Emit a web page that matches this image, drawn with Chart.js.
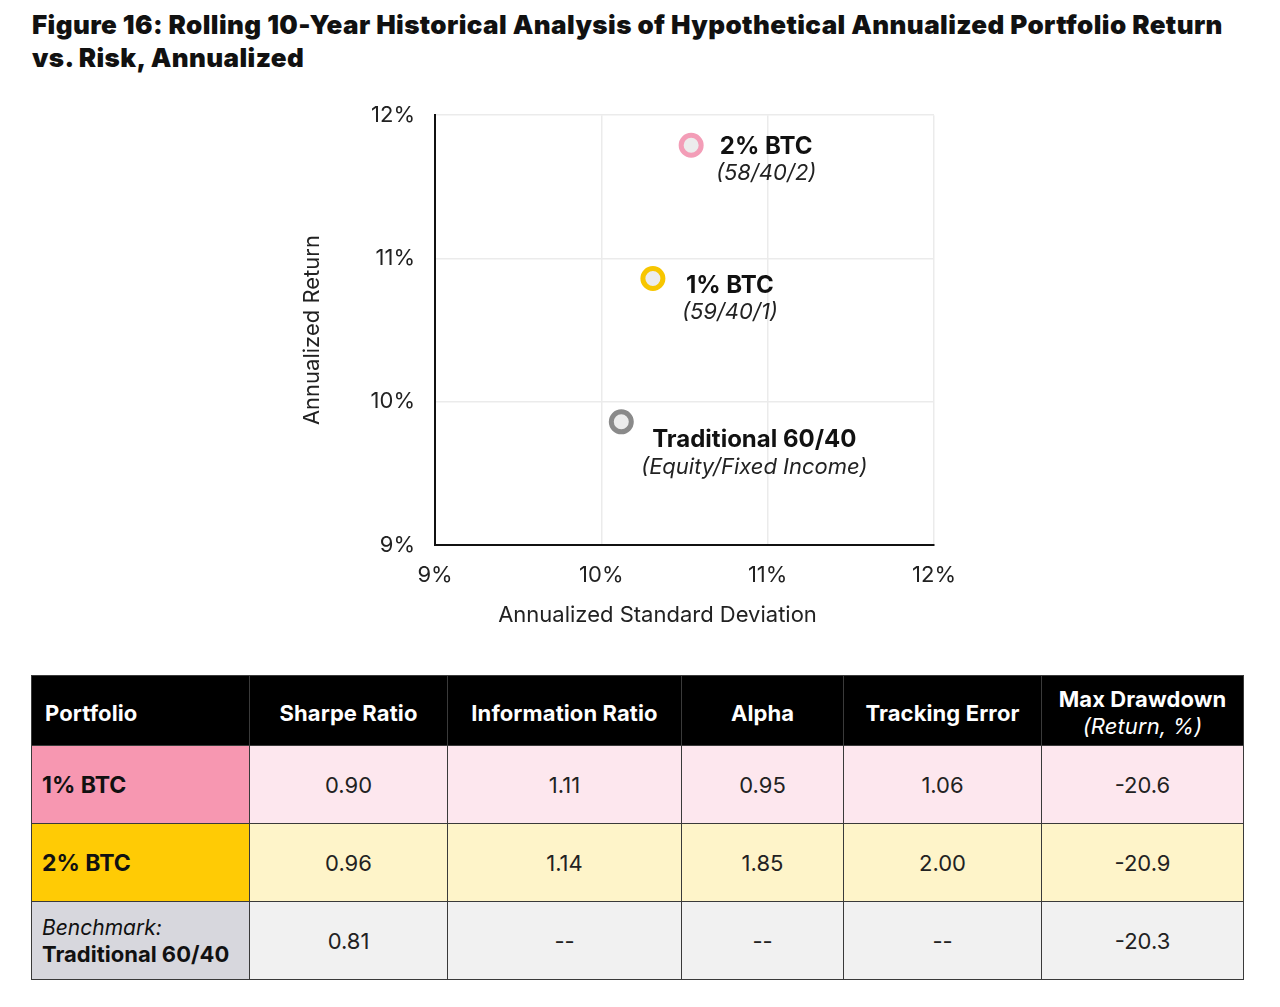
<!DOCTYPE html>
<html>
<head>
<meta charset="utf-8">
<script src="https://cdn.jsdelivr.net/npm/chart.js@4"></script>
<style>
  body { margin: 0; background: #fff; font-family: Inter, "Noto Sans", sans-serif; color: #111; }
  #page { position: relative; width: 1280px; height: 1007px; overflow: hidden; }
  h1 { position: absolute; left: 32px; top: 8px; margin: 0; font-size: 26px; font-weight: 900; line-height: 33px; letter-spacing: 0.4px; color: #111; white-space: nowrap; }
  #chart-box { position: absolute; left: 0; top: 82px; width: 1280px; height: 568px; }
  table { position: absolute; left: 31px; top: 675px; width: 1212px; table-layout: fixed; border-collapse: collapse; font-size: 22px; }
  th, td { border: 1.5px solid #3a3a3a; text-align: center; padding: 0; box-sizing: border-box; }
  th { background: #000; color: #fff; font-weight: 700; height: 70px; padding-top: 5px; border-left-color: #aaa; line-height: 27px; letter-spacing: 0.1px; }
  th:first-child { text-align: left; padding-left: 13px; border-left-color: #3a3a3a; }
  th i { font-weight: 400; }
  td { height: 78px; color: #222; }
  td:first-child { text-align: left; padding-left: 10px; font-weight: 700; color: #111; font-size: 23px; }
  td.bench { font-size: 22px; line-height: 27px; }
  td i { font-weight: 400; font-size: 21px; }
</style>
</head>
<body>
<div id="page">
  <h1>Figure 16: Rolling 10-Year Historical Analysis of Hypothetical Annualized Portfolio Return<br>vs. Risk, Annualized</h1>
  <div id="chart-box"><canvas id="chart"></canvas></div>
  <table id="stats"></table>
</div>
<script>
// scatter data
const portfolios = ['2% BTC', '1% BTC', 'Traditional 60/40'];
const mixLabels = ['(58/40/2)', '(59/40/1)', '(Equity/Fixed Income)'];
const stdDev = [10.54, 10.31, 10.12];
const annReturn = [11.79, 10.86, 9.86];
const axisTicks = [9, 10, 11, 12];
const xTitle = 'Annualized Standard Deviation';
const yTitle = 'Annualized Return';

// table data
const tableHeaders = ['Portfolio', 'Sharpe Ratio', 'Information Ratio', 'Alpha', 'Tracking Error', 'Max Drawdown'];
const rowNames = ['1% BTC', '2% BTC', 'Traditional 60/40'];
const sharpe = ['0.90', '0.96', '0.81'];
const infoRatio = ['1.11', '1.14', '--'];
const alpha = ['0.95', '1.85', '--'];
const trackingErr = ['1.06', '2.00', '--'];
const maxDrawdown = ['-20.6', '-20.9', '-20.3'];

// styles
const pointColors = ['#f39db7', '#f7c600', '#8a8a8a'];
const labelOffsets = [[75, 1, 28], [77, 7, 34], [133, 18, 46]]; // dx, dy name, dy mix
const colWidths = [218, 198, 234, 162, 198, 202];
const rowFills = [['#f797b1', '#fde7ee'], ['#ffcb05', '#fef4c9'], ['#d7d7dd', '#f1f1f1']];

// build table
const tbl = document.getElementById('stats');
let html = '<colgroup>' + colWidths.map(w => `<col style="width:${w}px">`).join('') + '</colgroup><tr>';
tableHeaders.forEach((h, i) => {
    let txt = h;
    if (h === 'Max Drawdown') txt = h + '<br><i>(Return, %)</i>';
    html += `<th>${txt}</th>`;
});
html += '</tr>';
rowNames.forEach((name, r) => {
    let first = name;
    if (r === 2) first = '<i>Benchmark:</i><br>' + name;
    const cells = [first, sharpe[r], infoRatio[r], alpha[r], trackingErr[r], maxDrawdown[r]];
    html += '<tr>';
    cells.forEach((c, i) => {
        const bg = i === 0 ? rowFills[r][0] : rowFills[r][1];
        const cls = r === 2 && i === 0 ? ' class="bench"' : '';
        html += `<td${cls} style="background:${bg}">${c}</td>`;
    });
    html += '</tr>';
});
tbl.innerHTML = html;

const pointLabels = {
    id: 'pointLabels',
    afterDatasetsDraw(chart) {
        const ctx = chart.ctx;
        const meta = chart.getDatasetMeta(0);
        const area = chart.chartArea;
        ctx.save();
        ctx.textAlign = 'center';
        ctx.textBaseline = 'middle';
        meta.data.forEach((pt, i) => {
            const [dx, dy1, dy2] = labelOffsets[i];
            ctx.fillStyle = '#111';
            ctx.font = '700 24px Inter';
            ctx.fillText(portfolios[i], pt.x + dx, pt.y + dy1);
            ctx.fillStyle = '#222';
            ctx.font = 'italic 400 22px Inter';
            ctx.fillText(mixLabels[i], pt.x + dx, pt.y + dy2);
        });
        // x axis title sits a little left of the plot centre in the original
        ctx.font = '400 22px Inter';
        ctx.fillStyle = '#222';
        ctx.fillText(xTitle, (area.left + area.right) / 2 - 27, area.bottom + 70);
        ctx.restore();
    }
};

const ctx = document.getElementById('chart').getContext('2d');
const tickFont = { family: 'Inter', size: 22 };
new Chart(ctx, {
    type: 'scatter',
    data: {
        datasets: [{
            data: stdDev.map((x, i) => ({ x: x, y: annReturn[i] })),
            pointRadius: 10,
            pointHoverRadius: 10,
            pointBorderWidth: 5,
            pointBackgroundColor: '#ececec',
            pointBorderColor: pointColors
        }]
    },
    options: {
        responsive: true,
        maintainAspectRatio: false,
        animation: false,
        layout: { padding: { left: 290, right: 346, top: 0, bottom: 0 } },
        plugins: { legend: { display: false }, tooltip: { enabled: false } },
        scales: {
            x: {
                min: axisTicks[0], max: axisTicks[axisTicks.length - 1],
                afterBuildTicks: s => { s.ticks = axisTicks.map(v => ({ value: v })); },
                afterFit: s => { s.height = 105; },
                grid: { color: '#ebebeb', lineWidth: 1.5, drawTicks: false },
                border: { color: '#111', width: 2 },
                ticks: { padding: 17, color: '#222', font: tickFont, callback: v => v + '%' }
            },
            y: {
                min: axisTicks[0], max: axisTicks[axisTicks.length - 1],
                afterBuildTicks: s => { s.ticks = axisTicks.map(v => ({ value: v })); },
                afterFit: s => { s.width = 145; },
                grid: { color: '#ebebeb', lineWidth: 1.5, drawTicks: false },
                border: { color: '#111', width: 2 },
                ticks: { padding: 20, color: '#222', font: tickFont, callback: v => v + '%' },
                title: { display: true, text: yTitle, color: '#222', font: tickFont, padding: { top: 9, bottom: 0 } }
            }
        }
    },
    plugins: [pointLabels]
});
</script>
</body>
</html>
